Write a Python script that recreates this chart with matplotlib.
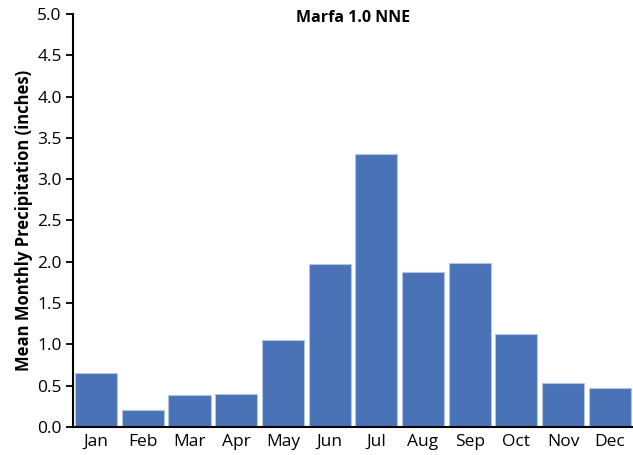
import matplotlib
matplotlib.use("Agg")
import matplotlib.pyplot as plt

months = ['Jan', 'Feb', 'Mar', 'Apr', 'May', 'Jun', 'Jul', 'Aug', 'Sep', 'Oct', 'Nov', 'Dec']
precip = [0.65, 0.20, 0.39, 0.40, 1.05, 1.97, 3.30, 1.87, 1.98, 1.12, 0.53, 0.47]
yticks = [0.0, 0.5, 1.0, 1.5, 2.0, 2.5, 3.0, 3.5, 4.0, 4.5, 5.0]

plt.rcParams['font.family'] = ['Open Sans', 'DejaVu Sans']

fig = plt.figure(figsize=(6.33, 4.55), dpi=100)
ax = fig.add_axes([0.115, 0.062, 0.885, 0.907])

ax.bar(range(len(months)), precip, width=0.9, color='#4a72b7',
       edgecolor='#b4c4e4', linewidth=0.8)

ax.set_xlim(-0.5, 11.5)
ax.set_ylim(0, 5.0)
ax.set_yticks(yticks)
ax.set_yticklabels(['%.1f' % t for t in yticks], fontsize=12.5)
ax.set_xticks(range(len(months)))
ax.set_xticklabels(months, fontsize=12.5)
ax.tick_params(axis='x', length=0, pad=5)
ax.tick_params(axis='y', length=5, width=1.3, pad=3)

for s in ['top', 'right']:
    ax.spines[s].set_visible(False)
ax.spines['left'].set_linewidth(1.5)
ax.spines['bottom'].set_linewidth(1.5)

ax.set_ylabel('Mean Monthly Precipitation (inches)', fontsize=12, fontweight='bold', labelpad=3)
ax.text(0.5, 0.99, 'Marfa 1.0 NNE', transform=ax.transAxes, ha='center', va='center',
        fontsize=11.5, fontweight='bold')

fig.savefig('out.png', dpi=100)
